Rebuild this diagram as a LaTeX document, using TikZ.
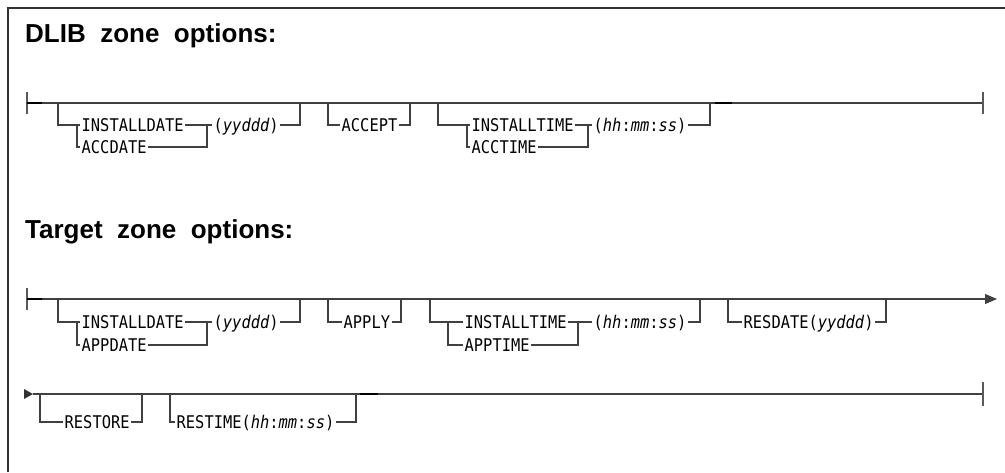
\documentclass[tikz,border=0pt]{standalone}
\usepackage{fontspec}
\newfontfamily\railfont[FakeStretch=0.88]{DejaVu Sans Mono}
\newfontfamily\headfont{Liberation Sans}
\usetikzlibrary{arrows.meta}

\begin{document}
\begin{tikzpicture}[x=1pt,y=-1pt,
  rail/.style={black!75,line width=1.1pt},
  bar/.style={black!65,line width=1.8pt},
  stub/.style={black,line width=1.8pt},
  kw/.style={font=\railfont\fontsize{17.5}{18}\selectfont,inner xsep=1.5pt,inner ysep=0pt,
    text height=12pt,text depth=0pt,anchor=west},
  head/.style={font=\headfont\bfseries\fontsize{26}{26}\selectfont,anchor=base west,inner sep=0pt}]
  \useasboundingbox (0,0) rectangle (1005,472);
  \draw[line width=1.5pt,black!80] (8,472) -- (8,8) -- (1005,8);

  % DLIB zone options
  \node[head] (dHead) at (25,42) {DLIB\ \ zone\ \ options:};
  \coordinate (dStart) at (27,103);
  \coordinate (dEnd) at (983,103);
  \draw[rail] (dStart) -- (dEnd);
  \draw[bar] (27,92) -- (27,114);
  \draw[bar] (983,92) -- (983,114);
  \draw[stub] (27,103) -- (42,103);
  \draw[stub] (715,103) -- (732,103);
  \node[kw] (dInstDate) at (80,125) {INSTALLDATE};
  \node[kw] (dAccDate) at (80,147) {ACCDATE};
  \node[kw] (dDate) at (212,125) {(\textit{yyddd})};
  \draw[rail] (58,103) |- (dInstDate.west);
  \draw[rail] (77,125) |- (dAccDate.west);
  \draw[rail] (dInstDate.east) -- (dDate.west);
  \draw[rail] (dAccDate.east) -| (207,125);
  \draw[rail] (dDate.east) -| (300,103);
  \node[kw] (dAccept) at (340,125) {ACCEPT};
  \draw[rail] (328,103) |- (dAccept.west);
  \draw[rail] (dAccept.east) -| (410,103);
  \node[kw] (dInstTime) at (470,125) {INSTALLTIME};
  \node[kw] (dAccTime) at (470,147) {ACCTIME};
  \node[kw] (dTime) at (592,125) {(\textit{hh}:\textit{mm}:\textit{ss})};
  \draw[rail] (438,103) |- (dInstTime.west);
  \draw[rail] (467,125) |- (dAccTime.west);
  \draw[rail] (dInstTime.east) -- (dTime.west);
  \draw[rail] (dAccTime.east) -| (588,125);
  \draw[rail] (dTime.east) -| (710,103);

  % Target zone options
  \node[head] (tHead) at (25,238) {Target\ \ zone\ \ options:};
  \coordinate (tStart) at (27,299);
  \coordinate (tEnd) at (997,299);
  \draw[rail,-{Triangle[length=12pt,width=10pt]}] (tStart) -- (tEnd);
  \draw[bar] (27,288) -- (27,310);
  \draw[stub] (27,299) -- (42,299);
  \node[kw] (tInstDate) at (80,322) {INSTALLDATE};
  \node[kw] (tAppDate) at (80,345) {APPDATE};
  \node[kw] (tDate) at (212,322) {(\textit{yyddd})};
  \draw[rail] (58,299) |- (tInstDate.west);
  \draw[rail] (77,322) |- (tAppDate.west);
  \draw[rail] (tInstDate.east) -- (tDate.west);
  \draw[rail] (tAppDate.east) -| (207,322);
  \draw[rail] (tDate.east) -| (300,299);
  \node[kw] (tApply) at (342,322) {APPLY};
  \draw[rail] (328,299) |- (tApply.west);
  \draw[rail] (tApply.east) -| (401,299);
  \node[kw] (tInstTime) at (463,322) {INSTALLTIME};
  \node[kw] (tAppTime) at (463,345) {APPTIME};
  \node[kw] (tTime) at (592,322) {(\textit{hh}:\textit{mm}:\textit{ss})};
  \draw[rail] (430,299) |- (tInstTime.west);
  \draw[rail] (448,322) |- (tAppTime.west);
  \draw[rail] (tInstTime.east) -- (tTime.west);
  \draw[rail] (tAppTime.east) -| (578,322);
  \draw[rail] (tTime.east) -| (700,299);
  \node[kw] (tResDate) at (742,322) {RESDATE(\textit{yyddd})};
  \draw[rail] (728,299) |- (tResDate.west);
  \draw[rail] (tResDate.east) -| (886,299);

  % continuation line
  \coordinate (cStart) at (33,394);
  \coordinate (cEnd) at (983,394);
  \fill[black!80] (24,389) -- (cStart) -- (24,399) -- cycle;
  \draw[rail] (cStart) -- (cEnd);
  \draw[bar] (983,382) -- (983,406);
  \draw[stub] (360,394) -- (378,394);
  \node[kw] (cRestore) at (63,422) {RESTORE};
  \draw[rail] (40,394) |- (cRestore.west);
  \draw[rail] (cRestore.east) -| (142,394);
  \node[kw] (cResTime) at (175,422) {RESTIME(\textit{hh}:\textit{mm}:\textit{ss})};
  \draw[rail] (170,394) |- (cResTime.west);
  \draw[rail] (cResTime.east) -| (356,394);
\end{tikzpicture}
\end{document}
